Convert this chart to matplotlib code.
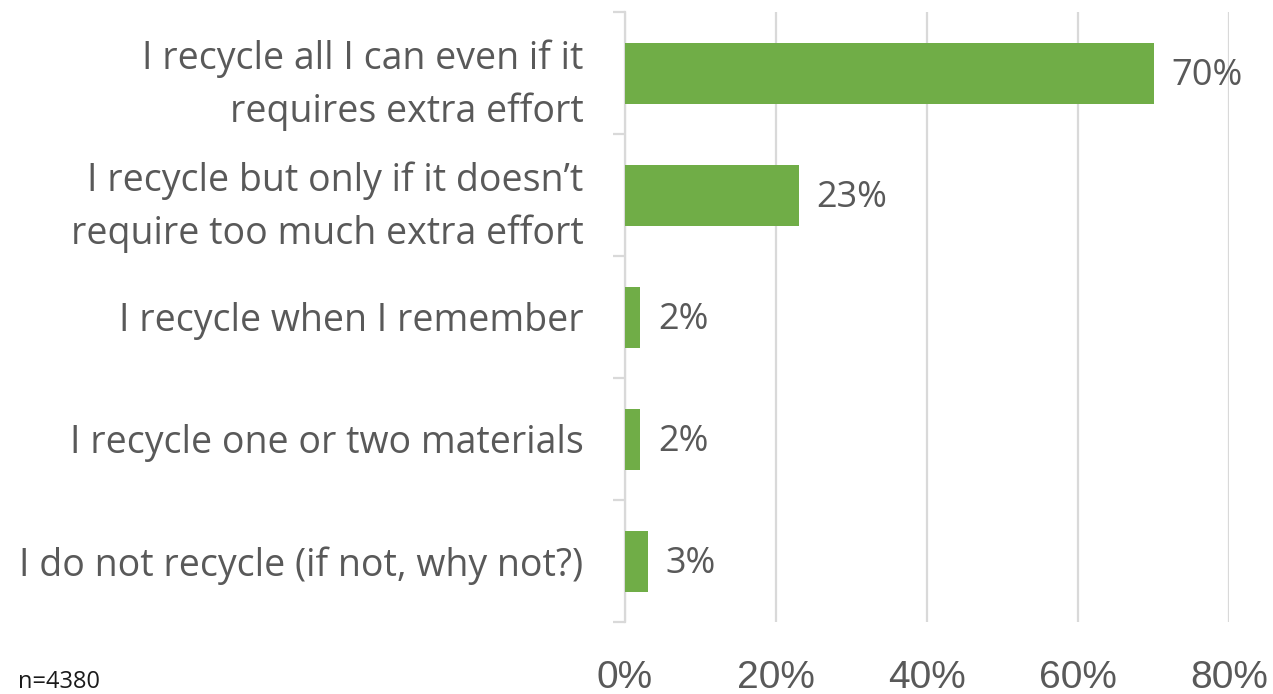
import matplotlib
matplotlib.use("Agg")
import matplotlib.pyplot as plt
from matplotlib.ticker import FixedLocator, PercentFormatter

categories = [
    "I recycle all I can even if it\nrequires extra effort",
    "I recycle but only if it doesn\u2019t\nrequire too much extra effort",
    "I recycle when I remember",
    "I recycle one or two materials",
    "I do not recycle (if not, why not?)",
]
values = [70, 23, 2, 2, 3]
x_ticks = [0, 20, 40, 60, 80]
sample_note = "n=4380"

green = "#70AD47"
text_gray = "#595959"
grid_gray = "#D9D9D9"

plt.rcParams["font.family"] = ["Open Sans", "DejaVu Sans"]

fig = plt.figure(figsize=(12.73, 6.94), dpi=100)
ax = fig.add_axes([625 / 1273, 1 - 622 / 694, (1229 - 625) / 1273, 610 / 694])

n = len(categories)
ypos = list(range(n))
ax.barh(ypos, values, height=0.5, color=green, zorder=3)

ax.set_xlim(0, 80)
ax.set_ylim(n - 0.5, -0.5)

ax.xaxis.set_major_locator(FixedLocator(x_ticks))
ax.xaxis.set_major_formatter(PercentFormatter(decimals=0))
ax.tick_params(axis="x", length=0, pad=27, labelsize=28, colors=text_gray)
for lbl in ax.get_xticklabels():
    lbl.set_family(["Liberation Sans", "DejaVu Sans"])
ax.grid(axis="x", color=grid_gray, linewidth=1.6, zorder=0)

ax.set_yticks(ypos)
ax.set_yticklabels(categories, fontsize=27, color=text_gray, linespacing=1.5)
ax.tick_params(axis="y", which="major", length=0, pad=30)
ax.set_yticks([i - 0.5 for i in range(n + 1)], minor=True)
ax.tick_params(axis="y", which="minor", length=9, width=1.6, color=grid_gray)

for side in ("top", "right", "bottom"):
    ax.spines[side].set_visible(False)
ax.spines["left"].set_color(grid_gray)
ax.spines["left"].set_linewidth(1.6)

for y, v in zip(ypos, values):
    ax.annotate(f"{v}%", xy=(v, y), xytext=(13, -2.5), textcoords="offset points",
                ha="left", va="center", fontsize=26, color=text_gray)

fig.text(18 / 1273, 1 - 682 / 694, sample_note, fontsize=17, color="#1a1a1a",
         family=["Liberation Sans Narrow", "Open Sans", "DejaVu Sans"],
         ha="left", va="center")

fig.savefig("out.png", dpi=100)
